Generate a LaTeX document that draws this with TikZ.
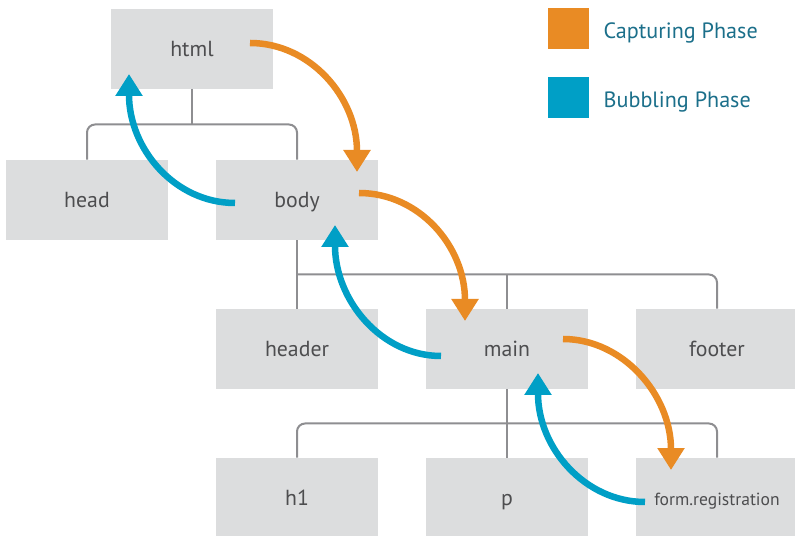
\documentclass[tikz,border=0pt]{standalone}
\usepackage{fontspec}
\setmainfont{PT Sans}
\usetikzlibrary{arrows.meta,calc,positioning}
\definecolor{capture}{HTML}{E98B24}
\definecolor{bubble}{HTML}{009FC6}
\definecolor{boxgray}{HTML}{DCDDDE}
\definecolor{treegray}{HTML}{8E8E91}
\definecolor{labelgray}{HTML}{4D4D4F}
\definecolor{legendtext}{HTML}{1B6F8A}
\tikzset{
  element/.style={
    fill=boxgray,
    minimum width=3.24cm,
    minimum height=1.6cm,
    inner sep=0,
    text height=9pt,
    text depth=0pt,
    text=labelgray,
    font=\fontsize{12.4}{14}\selectfont
  },
  branch/.style={
    draw=treegray,
    line width=0.04cm,
    rounded corners=0.16cm
  },
  capturing/.style={
    draw=capture,
    line width=0.13cm,
    -{Triangle[width=0.52cm,length=0.44cm]}
  },
  bubbling/.style={
    draw=bubble,
    line width=0.13cm,
    -{Triangle[width=0.52cm,length=0.44cm]}
  },
  legendkey/.style={
    minimum size=0.82cm,
    inner sep=0
  },
  legendlabel/.style={
    inner sep=0,
    text height=11.5pt,
    text depth=0pt,
    text=legendtext,
    font=\fontsize{12.6}{15}\selectfont
  }
}
\begin{document}
\begin{tikzpicture}[x=0.02cm,y=-0.02cm]
  \useasboundingbox (0,0) rectangle (795,536);
  % DOM tree
  \node[element] (html) at (192,49) {html};
  \node[element] (head) at (87,200) {head};
  \node[element] (body) at (297,200) {body};
  \node[element] (header) at (297,349) {header};
  \node[element] (main) at (507,349) {main};
  \node[element] (footer) at (717,349) {footer};
  \node[element] (h1) at (297,498) {h1};
  \node[element] (p) at (507,498) {p};
  \node[element,font=\fontsize{10}{12}\selectfont,text height=8pt] (form) at (717,498) {form.registration};

  % branches
  \coordinate (htmlbus) at ($(html.south)!.5!(html.south |- body.north)$);
  \draw[branch] (html.south) -- (htmlbus);
  \draw[branch] (head.north) |- (htmlbus) -| (body.north);
  \coordinate (bodybus) at ($(body.south)!.5!(header.north)$);
  \draw[branch] (body.south) -- (header.north);
  \draw[branch] (bodybus) -| (footer.north);
  \draw[branch] (main.north) -- (main.north |- bodybus);
  \coordinate (mainbus) at ($(main.south)!.5!(p.north)$);
  \draw[branch] (main.south) -- (p.north);
  \draw[branch] (h1.north) |- (mainbus) -| (form.north);

  % capturing, top down
  \draw[capturing] ($(html.center)+(58,-6)$) .. controls +(60,0) and +(0,-75) .. ($(body.center)+(60,-28)$);
  \draw[capturing] ($(body.center)+(62,-7)$) .. controls +(60,0) and +(0,-75) .. ($(main.center)+(-42,-28)$);
  \draw[capturing] ($(main.center)+(56,-10)$) .. controls +(60,0) and +(0,-75) .. ($(form.center)+(-46,-28)$);

  % bubbling, bottom up
  \draw[bubbling] ($(body.center)+(-62,3)$) .. controls +(-60,0) and +(0,75) .. ($(html.center)+(-63,25)$);
  \draw[bubbling] ($(main.center)+(-66,7)$) .. controls +(-60,0) and +(0,75) .. ($(body.center)+(38,25)$);
  \draw[bubbling] ($(form.center)+(-72,4)$) .. controls +(-60,0) and +(0,75) .. ($(main.center)+(31,24)$);

  % legend
  \node[legendkey,fill=capture] (capkey) at (568.5,28.5) {};
  \node[legendlabel,right=0.28cm of capkey] (caplabel) {Capturing Phase};
  \node[legendkey,fill=bubble] (bubkey) at (568.5,97.5) {};
  \node[legendlabel,right=0.28cm of bubkey] (bublabel) {Bubbling Phase};
\end{tikzpicture}
\end{document}
